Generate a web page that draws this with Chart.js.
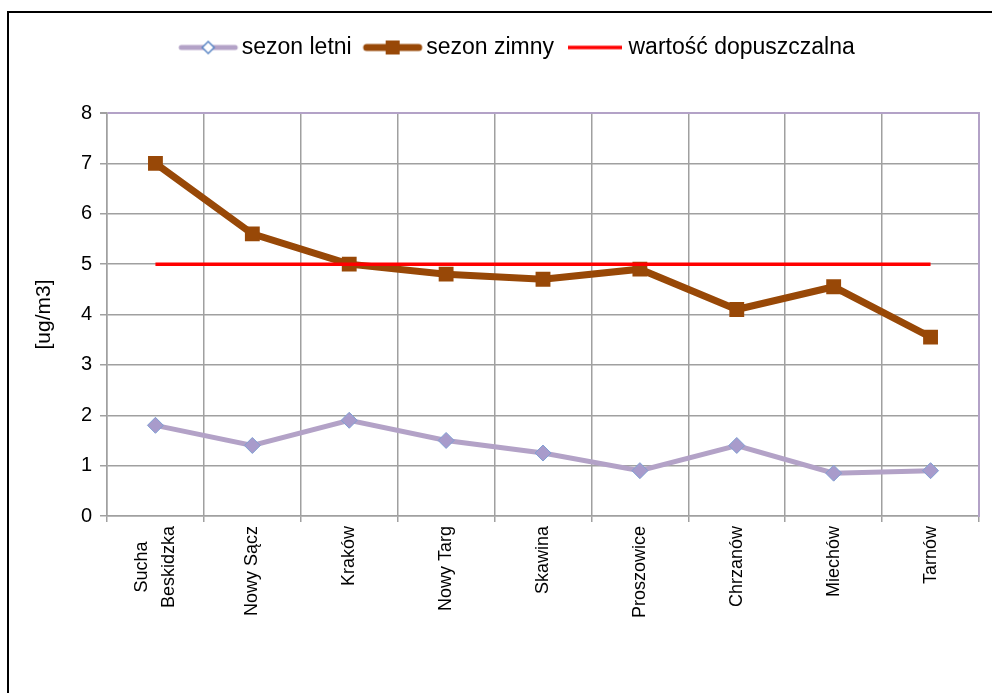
<!DOCTYPE html>
<html><head><meta charset="utf-8">
<script src="https://cdn.jsdelivr.net/npm/chart.js@4.4.1/dist/chart.umd.min.js"></script>
<style>
html,body{margin:0;padding:0;background:#fff;overflow:hidden;width:992px;height:693px}
#frame{position:absolute;left:7px;top:11px;width:2000px;height:2000px;border:2px solid #000;box-sizing:border-box}
#wrap{position:absolute;left:0;top:0;width:992px;height:693px}
</style></head><body>
<div id="frame"></div>
<div id="wrap"><canvas id="c" width="992" height="693"></canvas></div>
<script>
const categories = [['Sucha', 'Beskidzka'], 'Nowy Sącz', 'Kraków', 'Nowy Targ', 'Skawina', 'Proszowice', 'Chrzanów', 'Miechów', 'Tarnów'];
const summerValues = [1.8, 1.4, 1.9, 1.5, 1.25, 0.9, 1.4, 0.85, 0.9];
const winterValues = [7.0, 5.6, 5.0, 4.8, 4.7, 4.9, 4.1, 4.55, 3.55];
const limitValues = [5, 5, 5, 5, 5, 5, 5, 5, 5];
const seriesNames = ['sezon letni', 'sezon zimny', 'wartość dopuszczalna'];
const yMin = 0, yMax = 8, yStep = 1;
const yTitle = '[ug/m3]';

const FONT = "'Liberation Sans', Arial, sans-serif";
const GRAY = '#a0a0a0';
const LAV = '#b3a2c7';
const SUMMER_LINE = '#b3a2c7';
const SUMMER_FILL = '#a89bcb';
const SUMMER_BORDER = '#7f9fd3';
const WINTER = '#984807';
const RED = '#ff0000';
const X_FONT_SIZE = 18;
const MULTI_LINE_HEIGHT = 27;

function icon(kind) {
  const c = document.createElement('canvas');
  c.width = 72; c.height = 24;
  const g = c.getContext('2d');
  const y = 12, cx = 36;
  if (kind === 0) {
    g.strokeStyle = SUMMER_LINE; g.lineWidth = 5; g.lineCap = 'round';
    g.beginPath(); g.moveTo(cx - 27, y); g.lineTo(cx + 27, y); g.stroke();
    g.fillStyle = '#fff'; g.strokeStyle = '#5b86c5'; g.lineWidth = 1.5;
    g.beginPath(); g.moveTo(cx - 6, y); g.lineTo(cx, y - 6); g.lineTo(cx + 6, y); g.lineTo(cx, y + 6); g.closePath();
    g.fill(); g.stroke();
  } else if (kind === 1) {
    g.strokeStyle = WINTER; g.lineWidth = 7; g.lineCap = 'round';
    g.beginPath(); g.moveTo(cx - 26, y); g.lineTo(cx + 26, y); g.stroke();
    g.fillStyle = WINTER;
    g.fillRect(cx - 7, y - 7, 14, 14);
  } else {
    g.strokeStyle = RED; g.lineWidth = 3.5;
    g.beginPath(); g.moveTo(cx - 27, y); g.lineTo(cx + 27, y); g.stroke();
  }
  return c;
}
const icons = [icon(0), icon(1), icon(2)];

const legendSpacer = {
  id: 'legendSpacer',
  beforeInit(chart) {
    const fit = chart.legend.fit;
    chart.legend.fit = function () { fit.call(this); this.height = 96; };
  }
};

// center multi-line rotated category labels (as in the original)
function centerMultiline(scale) {
  if (scale._wrappedLabels) return;
  scale._wrappedLabels = true;
  const orig = scale._computeLabelItems;
  scale._computeLabelItems = function (chartArea) {
    const items = orig.call(this, chartArea);
    const ctx = this.ctx;
    ctx.save();
    ctx.font = X_FONT_SIZE + 'px ' + FONT;
    items.forEach(it => {
      if (Array.isArray(it.label) && it.label.length > 1) {
        const n = it.label.length;
        const lh = MULTI_LINE_HEIGHT;
        const maxW = Math.max(...it.label.map(t => ctx.measureText(t).width));
        it.options.translation = [it.options.translation[0] - (n - 1) * lh / 2,
                                  it.options.translation[1] + maxW / 2];
        it.options.textAlign = 'center';
        it.font = Object.assign({}, it.font, { lineHeight: lh });
      }
    });
    ctx.restore();
    return items;
  };
}

new Chart(document.getElementById('c'), {
  type: 'line',
  data: {
    labels: categories,
    datasets: [
      { label: seriesNames[0], data: summerValues, borderColor: SUMMER_LINE, borderWidth: 5,
        pointStyle: 'rectRot', pointRadius: 8, pointBackgroundColor: SUMMER_FILL,
        pointBorderColor: SUMMER_BORDER, pointBorderWidth: 1, tension: 0, order: 2 },
      { label: seriesNames[1], data: winterValues, borderColor: WINTER, borderWidth: 7,
        pointStyle: 'rect', pointRadius: 10.5, pointBackgroundColor: WINTER,
        pointBorderColor: WINTER, pointBorderWidth: 0, tension: 0, order: 1 },
      { label: seriesNames[2], data: limitValues, borderColor: RED, borderWidth: 3.5,
        pointRadius: 0, tension: 0, order: 0 }
    ]
  },
  options: {
    responsive: false,
    animation: false,
    devicePixelRatio: 1,
    layout: { padding: { left: 62, right: 13, top: 17, bottom: 0 } },
    plugins: {
      tooltip: { enabled: false },
      legend: {
        position: 'top',
        labels: {
          usePointStyle: true,
          pointStyleWidth: 44,
          padding: 19,
          color: '#000',
          font: { family: FONT, size: 23 },
          generateLabels(chart) {
            return chart.data.datasets.map((ds, i) => ({
              text: ds.label, pointStyle: icons[i], datasetIndex: i, hidden: false,
              fillStyle: 'transparent', strokeStyle: 'transparent', lineWidth: 0, fontColor: '#000'
            }));
          }
        }
      }
    },
    scales: {
      x: {
        offset: true,
        grid: { offset: true, color: GRAY, lineWidth: 1.5, tickLength: 6, tickColor: GRAY },
        border: { color: GRAY, width: 1.5 },
        ticks: { autoSkip: false, maxRotation: 90, minRotation: 90, padding: 4, color: '#000',
                 font: { family: FONT, size: X_FONT_SIZE } },
        afterFit(s) { s.height = 177; centerMultiline(s); }
      },
      y: {
        min: yMin, max: yMax,
        ticks: { stepSize: yStep, padding: 8, color: '#000', font: { family: FONT, size: 20 } },
        grid: {
          color: ctx => (ctx.tick && ctx.tick.value === yMax) ? LAV : GRAY,
          lineWidth: ctx => (ctx.tick && ctx.tick.value === yMax) ? 2 : 1.5,
          tickLength: 7, tickColor: GRAY
        },
        border: { color: GRAY, width: 1.5 },
        title: { display: true, text: yTitle, color: '#000', font: { family: FONT, size: 21 },
                 padding: { top: -30, bottom: 0 } },
        afterFit(s) { s.width = 45; }
      },
      yRight: {
        position: 'right', min: yMin, max: yMax,
        ticks: { display: false },
        grid: { drawOnChartArea: false, drawTicks: false },
        border: { color: LAV, width: 2 },
        afterFit(s) { s.width = 0; }
      }
    }
  },
  plugins: [legendSpacer]
});
</script>
</body></html>
